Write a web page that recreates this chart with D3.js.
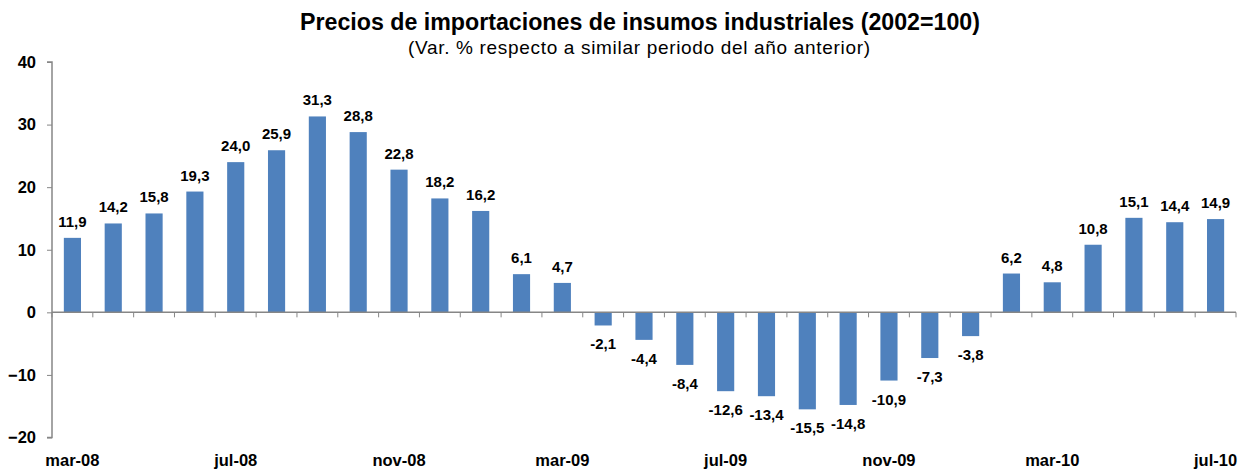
<!DOCTYPE html>
<html><head><meta charset="utf-8">
<script src="https://cdn.jsdelivr.net/npm/d3@7"></script>
<style>body{margin:0;background:#fff}svg{display:block}</style>
</head><body><svg id="c" width="1240" height="472"></svg>
<script>
const categories = ["mar-08","abr-08","may-08","jun-08","jul-08","ago-08","sep-08","oct-08","nov-08","dic-08","ene-09","feb-09","mar-09","abr-09","may-09","jun-09","jul-09","ago-09","sep-09","oct-09","nov-09","dic-09","ene-10","feb-10","mar-10","abr-10","may-10","jun-10","jul-10"];
const values = [11.9,14.2,15.8,19.3,24.0,25.9,31.3,28.8,22.8,18.2,16.2,6.1,4.7,-2.1,-4.4,-8.4,-12.6,-13.4,-15.5,-14.8,-10.9,-7.3,-3.8,6.2,4.8,10.8,15.1,14.4,14.9];
const xTickLabels = ["mar-08","jul-08","nov-08","mar-09","jul-09","nov-09","mar-10","jul-10"];
const yTicks = [-20,-10,0,10,20,30,40];
const title = "Precios de importaciones de insumos industriales (2002=100)";
const subtitle = "(Var. % respecto a similar periodo del año anterior)";

const svg = d3.select("#c");
const font = "'Liberation Sans', Arial, sans-serif";
const x = d3.scaleBand().domain(categories).range([52, 1236]).paddingInner(0.58).paddingOuter(0.29);
const y = d3.scaleLinear().domain([-20, 40]).range([437.5, 62]);

svg.append("text").attr("x", 640).attr("y", 30).attr("text-anchor", "middle")
  .attr("font-family", font).attr("font-weight", "bold").attr("font-size", 23)
  .attr("textLength", 680).attr("lengthAdjust", "spacingAndGlyphs").text(title);
svg.append("text").attr("x", 639).attr("y", 54).attr("text-anchor", "middle")
  .attr("font-family", font).attr("font-size", 19)
  .attr("textLength", 462).attr("lengthAdjust", "spacing").text(subtitle);

// y axis
const yAxis = svg.append("g").attr("transform", "translate(52,0)")
  .call(d3.axisLeft(y).tickValues(yTicks).tickSize(5).tickFormat(d3.format("d")));
yAxis.select(".domain").attr("stroke", "#868686").attr("stroke-width", 1.5).attr("d", `M-5,${y(40)}H0V${y(-20)}H-5`);
yAxis.selectAll(".tick line").attr("stroke", "#868686");
yAxis.selectAll(".tick text").attr("font-family", font).attr("font-weight", "bold").attr("font-size", 16.5)
  .attr("fill", "#000").attr("x", -16);

// bars
svg.append("g").selectAll("rect").data(values).join("rect")
  .attr("x", (d, i) => x(categories[i]))
  .attr("width", x.bandwidth())
  .attr("y", d => y(Math.max(0, d)))
  .attr("height", d => Math.abs(y(d) - y(0)))
  .attr("fill", "#4F81BD");

// zero axis with boundary ticks
const step = x.step();
const xAxis = svg.append("g").attr("transform", `translate(0,${y(0)})`);
xAxis.append("line").attr("x1", 52).attr("x2", 1236).attr("stroke", "#868686").attr("stroke-width", 1.5);
xAxis.selectAll("line.t").data(d3.range(categories.length + 1)).join("line").attr("class", "t")
  .attr("x1", i => 52 + i * step).attr("x2", i => 52 + i * step).attr("y1", 0).attr("y2", 5)
  .attr("stroke", "#868686");

// category labels
svg.append("g").selectAll("text").data(xTickLabels).join("text")
  .attr("x", d => x(d) + x.bandwidth() / 2).attr("y", 466).attr("text-anchor", "middle")
  .attr("font-family", font).attr("font-weight", "bold").attr("font-size", 16.5).text(d => d);

// value labels
const fmt = d => d.toFixed(1).replace(".", ",");
svg.append("g").selectAll("text").data(values).join("text")
  .attr("x", (d, i) => x(categories[i]) + x.bandwidth() / 2)
  .attr("y", d => d >= 0 ? y(d) - 11 : y(d) + 24)
  .attr("text-anchor", "middle").attr("font-family", font).attr("font-weight", "bold").attr("font-size", 15)
  .text(fmt);
</script></body></html>
